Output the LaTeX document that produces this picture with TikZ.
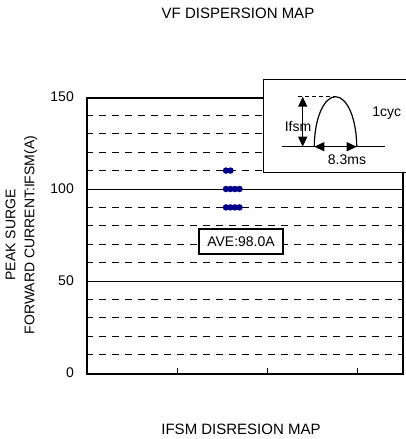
\documentclass[tikz,border=0pt]{standalone}
\usepackage{fontspec}
\setmainfont{Liberation Sans}
\usetikzlibrary{arrows.meta}
\definecolor{dotblue}{RGB}{0,0,140}
\begin{document}
\begin{tikzpicture}[x=1pt,y=-1pt,
  lab/.style={font=\fontsize{14}{19}\selectfont, inner sep=0pt},
  ttl/.style={font=\fontsize{15}{18}\selectfont, inner sep=0pt},
  griddash/.style={line width=0.9pt, dash pattern=on 7pt off 6pt},
  gridsolid/.style={line width=0.9pt},
  frame/.style={line width=2pt},
  dot/.style={circle, fill=dotblue, inner sep=0pt, minimum size=6.5pt},
  dblarrow/.style={line width=1.2pt, {Triangle[length=10pt,width=9pt]}-{Triangle[length=10pt,width=9pt]}}]
\useasboundingbox (0,0) rectangle (405,439);
% titles
\node[ttl] (title) at (238,13) {VF DISPERSION MAP};
\node[ttl] (xtitle) at (241,429) {IFSM DISRESION MAP};
\node[lab, rotate=90, align=center] (ytitle) at (21.5,235) {PEAK SURGE\\FORWARD CURRENT:IFSM(A)};
% grid
\foreach \v in {10,20,30,40,60,70,80,90,110,120,130,140}{
  \draw[griddash] (86,{373-1.84*\v}) -- (402,{373-1.84*\v});
}
\foreach \v in {50,100}{
  \draw[gridsolid] (86,{373-1.84*\v}) -- (402,{373-1.84*\v});
}
% y tick labels
\foreach \v in {0,50,100,150}{
  \node[lab, anchor=east] (yl\v) at (74,{373-1.84*\v}) {\v};
}
% bottom ticks
\foreach \x in {177,267,357}{
  \draw[line width=0.9pt] (\x,373) -- (\x,368);
}
% frame
\node[draw, frame, minimum width=316pt, minimum height=276pt, inner sep=0pt, anchor=north west] (plot) at (86,97) {};
% dots
\foreach \x in {226,230.5}{ \node[dot] at (\x,170.6) {}; }
\foreach \x in {226,230.5,235,239.5}{ \node[dot] at (\x,189) {}; \node[dot] at (\x,207.4) {}; }
% average box
\node[draw, line width=1.5pt, fill=white, minimum width=84pt, minimum height=25pt, inner sep=0pt, font=\fontsize{14}{16}\selectfont] (ave) at (241,241.5) {AVE:98.0A};
% inset
\node[draw, fill=white, line width=1.2pt, minimum width=150pt, minimum height=93pt, inner sep=0pt, anchor=north west] (inset) at (263,79) {};
\coordinate (bl) at (281.7,146.7);
\coordinate (br) at (385,146.7);
\coordinate (hl) at (314.3,146.7);
\coordinate (hr) at (356.7,146.7);
\coordinate (pk) at (335.5,96.7);
\coordinate (vt) at (302.7,96.7);
\coordinate (vb) at (302.7,146.7);
\coordinate (dl) at (298,96.7);
\draw[line width=1.2pt] (bl) -- (br);
\draw[line width=1.2pt] (hl) arc[start angle=180, end angle=0, x radius=21.2pt, y radius=50pt];
\draw[line width=1pt, dash pattern=on 4pt off 3pt] (dl) -- (pk);
\draw[dblarrow] (vt) -- (vb);
\draw[dblarrow] (hl) -- (hr);
\node[lab] (ifsm) at (298,126.7) {Ifsm};
\node[lab] (cyc) at (386.7,112.7) {1cyc};
\node[lab] (ms) at (347,160) {8.3ms};
\end{tikzpicture}
\end{document}
